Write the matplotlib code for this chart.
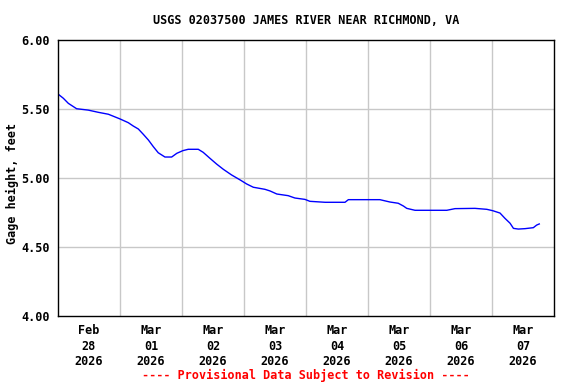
import matplotlib
matplotlib.use("Agg")
import matplotlib.pyplot as plt

# ── Datos (horas desde Feb 28 00:00, altura en pies) ──────────────
hours = [0.1, 2.05, 4.0, 7.2, 11.7, 15.6, 19.5, 24.0, 27.2, 29.1, 31.1, 33.0,
         35.0, 36.9, 38.8, 41.4, 44.0, 46.0, 48.3, 50.4, 54.3, 56.2, 58.8,
         61.4, 64.0, 67.2, 70.5, 73.0, 75.6, 80.1, 82.1, 84.7, 89.1, 91.7,
         95.6, 97.5, 103.4, 111.1, 112.4, 124.6, 128.5, 131.7, 133.7, 135.0,
         138.2, 150.5, 153.7, 161.4, 166.0, 168.3, 171.1, 173.0, 175.0,
         176.3, 178.2, 180.8, 184.0, 185.3, 186.3]
gage_ft = [5.607, 5.578, 5.541, 5.502, 5.492, 5.476, 5.462, 5.428, 5.401,
           5.377, 5.355, 5.317, 5.275, 5.227, 5.183, 5.152, 5.152, 5.179,
           5.198, 5.208, 5.208, 5.186, 5.143, 5.101, 5.063, 5.022, 4.986,
           4.957, 4.933, 4.918, 4.906, 4.884, 4.872, 4.855, 4.845, 4.831,
           4.824, 4.824, 4.843, 4.843, 4.826, 4.817, 4.797, 4.780, 4.766,
           4.766, 4.778, 4.780, 4.773, 4.763, 4.746, 4.708, 4.672, 4.635,
           4.630, 4.633, 4.640, 4.659, 4.667]

day_labels = ["Feb\n28\n2026", "Mar\n01\n2026", "Mar\n02\n2026", "Mar\n03\n2026",
              "Mar\n04\n2026", "Mar\n05\n2026", "Mar\n06\n2026", "Mar\n07\n2026"]
y_ticks = [4.0, 4.5, 5.0, 5.5, 6.0]

font = {"family": "DejaVu Sans Mono", "weight": "bold", "size": 8.5}

fig = plt.figure(figsize=(5.76, 3.84), dpi=100)
ax = fig.add_axes([58 / 576, 1 - 316 / 384, 496 / 576, 276 / 384])

days = [h / 24 for h in hours]
ax.plot(days, gage_ft, color="#0000ff", linewidth=1.0)

ax.set_xlim(0, 8)
ax.set_ylim(4.0, 6.0)

# rejilla vertical a medianoche, etiquetas a mediodía
for d in range(1, 8):
    ax.axvline(d, color="#c8c8c8", linewidth=1.0, zorder=0)
for y in y_ticks[1:-1]:
    ax.axhline(y, color="#c8c8c8", linewidth=1.0, zorder=0)

ax.set_xticks([i + 0.5 for i in range(8)])
ax.set_xticklabels(day_labels, fontdict=font, linespacing=1.25)
ax.set_yticks(y_ticks)
ax.set_yticklabels([f"{v:.2f}" for v in y_ticks], fontdict=font)
ax.tick_params(length=0, pad=6)

for s in ax.spines.values():
    s.set_linewidth(1.0)
    s.set_color("black")

# textos centrados sobre el área del gráfico
cx = 306 / 576
fig.text(12 / 576, 1 - 183 / 384, "Gage height, feet", rotation=90,
         ha="center", va="center", **font)
fig.text(cx, 1 - 20 / 384, "USGS 02037500 JAMES RIVER NEAR RICHMOND, VA",
         ha="center", va="center", **font)
fig.text(cx, 1 - 375 / 384, "---- Provisional Data Subject to Revision ----",
         ha="center", va="center", color="#ff0000", **font)

fig.savefig("out.png", dpi=100)
